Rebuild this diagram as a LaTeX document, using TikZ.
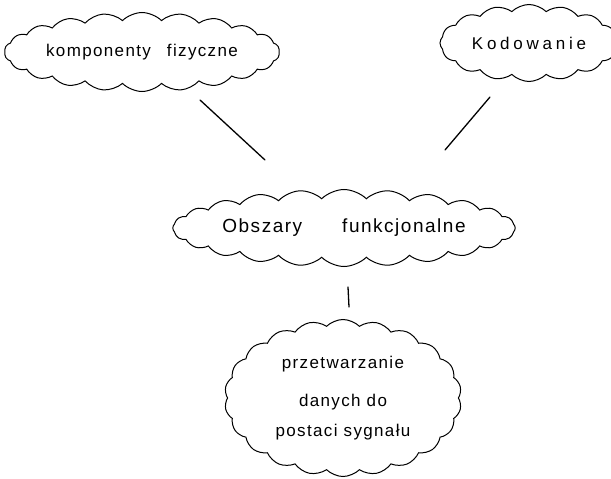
\documentclass[tikz,border=0pt]{standalone}
\usepackage{fontspec}
\setmainfont{Liberation Sans}[LetterSpace=8]
\usetikzlibrary{shapes.symbols}
\begin{document}
\begin{tikzpicture}[x=1pt,y=-1pt,
  idea/.style={cloud, draw, line width=1pt, cloud ignores aspect,
    cloud puff arc=90, inner sep=0pt, align=center,
    font=\fontsize{17}{20}\selectfont},
  link/.style={line width=1.3pt, line cap=round}]
\useasboundingbox (0,0) rectangle (611,479);
\clip (0,0) rectangle (611,479);

% the four topic clouds
\node[idea, cloud puffs=22, minimum width=275, minimum height=79] (comp) at (142,52)
  {komponenty\hspace{16pt}fizyczne};
\node[idea, cloud puffs=16, minimum width=178, minimum height=77] (kod) at (529,43)
  {\addfontfeatures{LetterSpace=22}Kodowanie};
\node[idea, cloud puffs=24, minimum width=320, minimum height=77,
  font=\fontsize{19}{22}\selectfont] (obs) at (344,228)
  {Obszary\hspace{40pt}funkcjonalne};
\node[idea, cloud puffs=22, minimum width=237, minimum height=157] (conv) at (343,398)
  {przetwarzanie\\[18pt]danych do\\[10pt]postaci sygnału};

% free ends of the short connecting strokes
\coordinate (compEnd) at (200,100);
\coordinate (obsA)    at (265,160);
\coordinate (kodEnd)  at (490,97);
\coordinate (obsB)    at (445,150);
\coordinate (obsC)    at (348,287);
\coordinate (convEnd) at (349,307);

\draw[link] (compEnd) -- (obsA);
\draw[link] (kodEnd) -- (obsB);
\draw[link] (obsC) -- (convEnd);
\end{tikzpicture}
\end{document}
